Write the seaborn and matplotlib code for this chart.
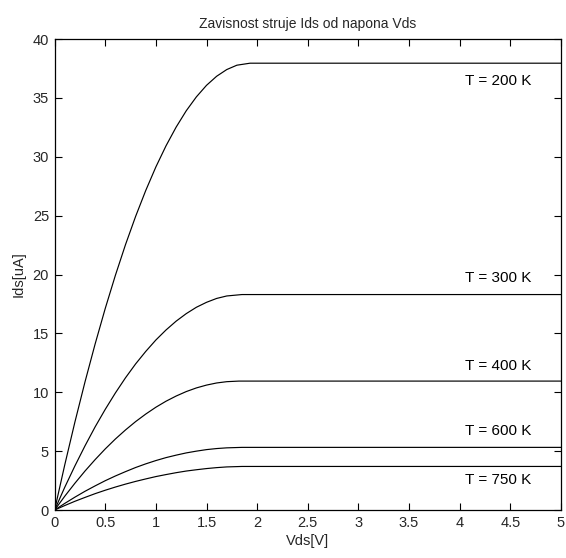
import matplotlib
matplotlib.use("Agg")
import matplotlib.pyplot as plt
import seaborn as sns
import pandas as pd

# Vds values (V) at which the curves were read
vds_200 = [0, 0.1, 0.2, 0.3, 0.4, 0.5, 0.6, 0.7, 0.8, 0.9, 1.0, 1.1, 1.2, 1.3, 1.4, 1.5, 1.6, 1.7, 1.8, 1.93, 5.0]
ids_200 = [0, 3.83, 7.46, 10.88, 14.10, 17.12, 19.93, 22.54, 24.94, 27.14, 29.14, 30.93, 32.52, 33.91, 35.09, 36.07, 36.84, 37.41, 37.78, 37.95, 37.95]

vds_300 = [0, 0.1, 0.2, 0.3, 0.4, 0.5, 0.6, 0.7, 0.8, 0.9, 1.0, 1.1, 1.2, 1.3, 1.4, 1.5, 1.6, 1.7, 1.85, 5.0]
ids_300 = [0, 1.93, 3.74, 5.45, 7.06, 8.55, 9.94, 11.23, 12.41, 13.47, 14.44, 15.29, 16.04, 16.68, 17.22, 17.64, 17.97, 18.18, 18.30, 18.30]

vds_400 = [0, 0.1, 0.2, 0.3, 0.4, 0.5, 0.6, 0.7, 0.8, 0.9, 1.0, 1.1, 1.2, 1.3, 1.4, 1.5, 1.6, 1.7, 1.82, 5.0]
ids_400 = [0, 1.17, 2.27, 3.31, 4.28, 5.19, 6.03, 6.80, 7.51, 8.15, 8.73, 9.24, 9.68, 10.06, 10.37, 10.61, 10.79, 10.90, 10.95, 10.95]

vds_600 = [0, 0.1, 0.2, 0.3, 0.4, 0.5, 0.6, 0.7, 0.8, 0.9, 1.0, 1.1, 1.2, 1.3, 1.4, 1.5, 1.6, 1.7, 1.85, 5.0]
ids_600 = [0, 0.56, 1.09, 1.59, 2.05, 2.49, 2.89, 3.26, 3.61, 3.92, 4.20, 4.45, 4.66, 4.85, 5.00, 5.13, 5.22, 5.28, 5.32, 5.32]

vds_750 = [0, 0.1, 0.2, 0.3, 0.4, 0.5, 0.6, 0.7, 0.8, 0.9, 1.0, 1.1, 1.2, 1.3, 1.4, 1.5, 1.6, 1.7, 1.85, 5.0]
ids_750 = [0, 0.38, 0.74, 1.07, 1.39, 1.68, 1.95, 2.20, 2.43, 2.64, 2.84, 3.01, 3.17, 3.31, 3.42, 3.52, 3.60, 3.66, 3.70, 3.70]

temps = ["T = 200 K", "T = 300 K", "T = 400 K", "T = 600 K", "T = 750 K"]
label_y = [36.4, 19.7, 12.25, 6.7, 2.55]
x_ticks = [0, 0.5, 1, 1.5, 2, 2.5, 3, 3.5, 4, 4.5, 5]
y_ticks = [0, 5, 10, 15, 20, 25, 30, 35, 40]

frames = []
for t, xs, ys in zip(temps,
                     [vds_200, vds_300, vds_400, vds_600, vds_750],
                     [ids_200, ids_300, ids_400, ids_600, ids_750]):
    frames.append(pd.DataFrame({"Vds": xs, "Ids": ys, "T": t}))
df = pd.concat(frames, ignore_index=True)

sns.set_style("ticks")
plt.rcParams["font.family"] = ["Liberation Sans", "DejaVu Sans"]
plt.rcParams["xtick.direction"] = "in"
plt.rcParams["ytick.direction"] = "in"

fig = plt.figure(figsize=(5.66, 5.58), dpi=100)
ax = fig.add_axes([0.0965, 0.086, 0.8945, 0.844])

sns.lineplot(data=df, x="Vds", y="Ids", hue="T", palette=["black"] * 5,
             linewidth=0.85, legend=False, ax=ax, sort=False, estimator=None)

for t, y in zip(temps, label_y):
    ax.text(4.05, y, t, fontsize=11, ha="left", va="center", color="black")

ax.set_xlim(0, 5)
ax.set_ylim(0, 40)
ax.set_xticks(x_ticks)
ax.set_xticklabels([f"{v:g}" for v in x_ticks])
ax.set_yticks(y_ticks)
ax.tick_params(axis="both", which="both", direction="in", length=5, width=0.8,
               labelsize=10.5, top=True, right=True, pad=4, color="black")
for s in ax.spines.values():
    s.set_visible(True)
    s.set_linewidth(0.9)
    s.set_color("black")

ax.set_title("Zavisnost struje Ids od napona Vds", fontsize=10, pad=8)
ax.set_xlabel("Vds[V]", fontsize=10.5, labelpad=3)
ax.set_ylabel("Ids[uA]", fontsize=10.5, labelpad=5)

fig.savefig("out.png", dpi=100)
